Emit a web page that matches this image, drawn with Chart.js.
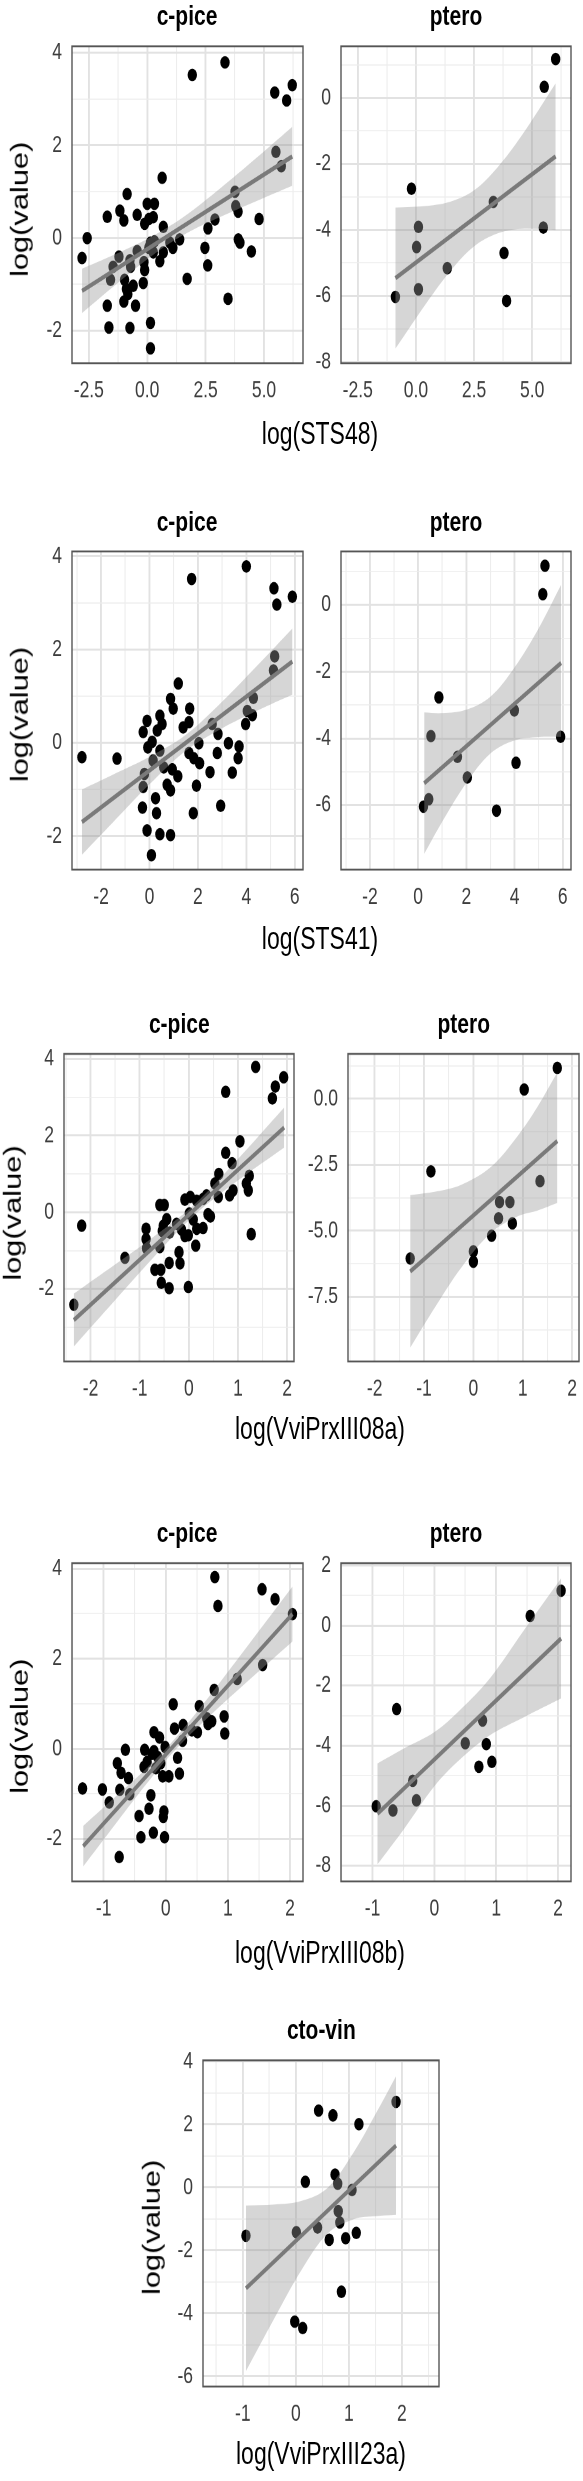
<!DOCTYPE html>
<html lang="en">
<head>
<meta charset="UTF-8">
<title>log(value) against expression</title>
<script src="https://cdn.jsdelivr.net/npm/chart.js"></script>
<style>
  body { margin: 0; background: #fff; }
  #page { position: relative; width: 583px; height: 2481px; overflow: hidden; }
  #stage { position: absolute; left: 0; top: 0; width: 583px; height: 1852px; transform-origin: 0 0;
           font-family: "Liberation Sans", Arial, Helvetica, sans-serif; }
  #stage canvas { position: absolute; }
  .lbl { position: absolute; width: 240px; text-align: center; white-space: nowrap; color: #000; }
</style>
</head>
<body>
<div id="page"><div id="stage"></div></div>
<script>
// the source figure is stretched vertically, so everything is drawn squat and scaled back up
const S = 1.34;

// ---- c-pice vs log(STS48)
const cpiceSTS48X = [1.93, 3.33, 5.46, 5.97, 6.21, 5.51, 5.74, 0.64, -0.86, 0, 0.31, -1.17, -1.71, -1.0, -0.43, -0.11, 0.07, 0.26, 0.69, 3.76, 3.79, 3.89, 2.9, 2.6, 4.79, 3.9, 3.97, 4.46, 2.47, 2.59, -2.57, -2.79, -1.21, -1.46, -1.57, -0.71, -0.43, -0.74, -0.14, -0.11, 0.14, 0.31, 0.26, 0.69, 0.54, 0.97, 1.1, 1.39, 1.71, -0.97, -0.89, -0.6, -0.83, -0.17, -1.0, -1.71, -0.5, -1.64, -0.74, 0.14, 0.14, 3.46, 0.07];
const cpiceSTS48Y = [3.52, 3.79, 3.14, 2.97, 3.30, 1.86, 1.55, 1.30, 0.95, 0.74, 0.74, 0.59, 0.46, 0.38, 0.50, 0.31, 0.41, 0.45, 0.24, 1.0, 0.69, 0.57, 0.40, 0.21, 0.41, -0.03, -0.10, -0.29, -0.21, -0.59, 0, -0.43, -0.40, -0.62, -0.90, -0.62, -0.28, -0.48, -0.52, -0.69, -0.10, -0.07, -0.31, -0.31, -0.50, -0.10, -0.21, -0.03, -0.88, -0.90, -1.10, -1.03, -1.21, -0.97, -1.37, -1.46, -1.46, -1.93, -1.94, -1.83, -2.38, -1.31, -0.21];
const cpiceSTS48FitX = [-2.79, 6.21];
const cpiceSTS48FitY = [-1.14, 1.76];
const cpiceSTS48BandX = [-2.79, -1.5, 0, 1, 2, 3.5, 5, 6.21];
const cpiceSTS48BandHi = [-0.66, -0.38, -0.02, 0.27, 0.62, 1.23, 1.87, 2.40];
const cpiceSTS48BandLo = [-1.62, -1.07, -0.46, -0.10, 0.19, 0.54, 0.87, 1.13];

// ---- ptero vs log(STS48)
const pteroSTS48X = [6.01, 5.52, -0.19, 3.33, 0.11, 5.48, 0.03, 3.79, 1.35, -0.88, 0.11, 3.9];
const pteroSTS48Y = [1.18, 0.34, -2.75, -3.15, -3.91, -3.93, -4.52, -4.70, -5.16, -6.03, -5.80, -6.15];
const pteroSTS48FitX = [-0.88, 6.01];
const pteroSTS48FitY = [-5.46, -1.77];
const pteroSTS48BandX = [-0.88, 0.5, 1.5, 2.5, 3.5, 4.5, 6.01];
const pteroSTS48BandHi = [-3.32, -3.27, -3.14, -2.80, -2.11, -1.19, 0.45];
const pteroSTS48BandLo = [-7.60, -6.17, -5.23, -4.50, -4.11, -3.97, -4.0];

// ---- c-pice vs log(STS41)
const cpiceSTS41X = [4.0, 1.74, 5.14, 5.26, 5.90, 5.17, 5.12, 1.19, 0.87, 0.98, 1.66, 4.29, 4.04, 4.25, 3.97, -0.10, -0.26, 0.43, 0.52, 0.32, 1.39, 1.63, 2.59, 2.83, 2.04, 3.26, 3.70, 3.66, -0.07, 0.43, 0.15, -2.79, -1.34, 1.63, 1.83, 2.07, 2.80, 0.59, 0.94, 1.17, 2.50, 3.42, -0.21, -0.26, 0.73, 0.87, 1.94, 0.25, -0.29, 0.29, 1.81, 2.94, -0.10, 0.43, 0.87, 0.08, 0.11];
const cpiceSTS41Y = [3.78, 3.51, 3.31, 2.96, 3.13, 1.85, 1.55, 1.27, 0.94, 0.73, 0.73, 0.96, 0.68, 0.59, 0.40, 0.47, 0.23, 0.58, 0.40, 0.26, 0.33, 0.44, 0.40, 0.19, -0.01, -0.01, -0.08, -0.33, -0.10, -0.17, -0.38, -0.31, -0.34, -0.22, -0.33, -0.44, -0.22, -0.53, -0.57, -0.72, -0.63, -0.64, -0.67, -0.95, -0.90, -1.02, -0.92, -1.19, -1.39, -1.51, -1.51, -1.35, -1.88, -1.96, -1.98, -2.41, 0.02];
const cpiceSTS41FitX = [-2.79, 5.90];
const cpiceSTS41FitY = [-1.70, 1.74];
const cpiceSTS41BandX = [-2.79, -1.5, 0, 1.5, 3, 4.5, 5.9];
const cpiceSTS41BandHi = [-1.00, -0.68, -0.30, 0.17, 0.88, 1.68, 2.45];
const cpiceSTS41BandLo = [-2.40, -1.70, -0.89, -0.17, 0.31, 0.70, 1.03];

// ---- ptero vs log(STS41)
const pteroSTS41X = [5.26, 5.17, 0.86, 3.99, 0.53, 5.91, 1.63, 4.06, 2.04, 0.44, 0.22, 3.25];
const pteroSTS41Y = [1.17, 0.32, -2.77, -3.16, -3.93, -3.95, -4.55, -4.73, -5.17, -5.82, -6.04, -6.16];
const pteroSTS41FitX = [0.25, 5.93];
const pteroSTS41FitY = [-5.34, -1.74];
const pteroSTS41BandX = [0.25, 1, 2, 3, 4, 5, 5.93];
const pteroSTS41BandHi = [-3.22, -3.24, -3.14, -2.75, -1.87, -0.70, 0.60];
const pteroSTS41BandLo = [-7.46, -6.49, -5.33, -4.45, -4.06, -3.96, -3.95];

// ---- c-pice vs log(VviPrxIII08a)
const cpice08aX = [1.36, 1.93, 1.76, 1.70, 0.75, 1.04, 0.75, 0.88, 0.61, 1.23, 1.17, 1.21, 0.90, 0.83, 0.53, 0.60, 0.36, 0.29, -0.08, 0.03, 0.16, -0.59, -0.50, 0.01, 0.09, 0.39, 0.44, 0.29, 0.16, -0.45, -0.52, -0.54, -0.39, -0.25, -0.15, -0.08, -0.01, -0.87, -0.87, -0.86, -0.59, -2.18, -1.30, 0.14, -0.20, -0.18, -0.40, -0.69, -0.57, -0.56, -0.40, -0.01, -2.34, 1.27];
const cpice08aY = [3.79, 3.52, 3.28, 2.97, 3.14, 1.85, 1.55, 1.28, 1.0, 0.95, 0.75, 0.57, 0.57, 0.44, 0.75, 0.40, 0.44, 0.35, 0.33, 0.40, 0.30, 0.19, 0.19, -0.03, -0.19, -0.05, -0.11, -0.41, -0.43, -0.18, -0.35, -0.49, -0.53, -0.30, -0.45, -0.62, -0.60, -0.43, -0.70, -0.94, -0.91, -0.35, -1.19, -0.87, -1.04, -1.33, -1.32, -1.50, -1.50, -1.84, -1.98, -1.95, -2.41, -0.57];
const cpice08aFitX = [-2.34, 1.94];
const cpice08aFitY = [-2.81, 2.21];
const cpice08aBandX = [-2.34, -1.5, -0.75, 0.1, 1, 1.94];
const cpice08aBandHi = [-2.12, -1.36, -0.67, 0.19, 1.39, 2.73];
const cpice08aBandLo = [-3.50, -2.29, -1.22, -0.09, 0.83, 1.69];

// ---- ptero vs log(VviPrxIII08a)
const ptero08aX = [1.70, 1.03, -0.86, 1.35, 0.53, 0.74, 0.51, 0.79, 0.37, 0, 0, -1.28];
const ptero08aY = [1.17, 0.35, -2.75, -3.12, -3.91, -3.91, -4.53, -4.72, -5.19, -5.78, -6.17, -6.05];
const ptero08aFitX = [-1.28, 1.70];
const ptero08aFitY = [-6.54, -1.60];
const ptero08aBandX = [-1.28, -0.75, -0.25, 0.35, 0.9, 1.3, 1.70];
const ptero08aBandHi = [-3.65, -3.51, -3.26, -2.59, -1.40, -0.30, 1.0];
const ptero08aBandLo = [-9.43, -7.82, -6.41, -5.09, -4.45, -4.23, -3.95];

// ---- c-pice vs log(VviPrxIII08b)
const cpice08bX = [0.79, 0.84, 1.55, 1.76, 2.04, 1.56, 1.15, 0.78, 0.12, 0.54, 0.94, 0.66, 0.74, 0.68, 0.95, 0.51, 0.42, 0.28, 0.14, 0.27, -0.19, -0.10, -0.34, -0.19, -0.01, 0.19, -0.65, -0.78, -0.72, -0.60, -0.35, -0.30, -0.16, -0.05, 0.05, 0.22, -1.34, -1.02, -0.91, -0.74, -0.58, -0.24, -0.27, -0.43, -0.03, -0.04, -0.40, -0.20, -0.02, -0.75, -0.13, -0.22, -0.08];
const cpice08bY = [3.81, 3.17, 3.54, 3.32, 2.99, 1.86, 1.55, 1.31, 0.99, 0.95, 0.72, 0.68, 0.61, 0.55, 0.34, 0.37, 0.41, 0.53, 0.45, 0.18, 0.37, 0.25, -0.02, -0.05, 0.04, -0.20, -0.02, -0.32, -0.53, -0.65, -0.40, -0.29, -0.43, -0.61, -0.61, -0.55, -0.88, -0.90, -1.19, -0.91, -1.01, -1.03, -1.33, -1.49, -1.39, -1.51, -1.96, -1.86, -1.96, -2.40, -0.18, -0.11, -0.32];
const cpice08bFitX = [-1.33, 2.04];
const cpice08bFitY = [-2.16, 2.99];
const cpice08bBandX = [-1.33, -0.8, -0.3, 0.1, 0.6, 1.2, 2.04];
const cpice08bBandHi = [-1.71, -1.05, -0.42, 0.15, 0.99, 2.07, 3.60];
const cpice08bBandLo = [-2.61, -1.65, -0.76, -0.10, 0.59, 1.35, 2.38];

// ---- ptero vs log(VviPrxIII08b)
const ptero08bX = [2.05, 1.55, -0.61, 0.78, 0.50, 0.84, 0.93, 0.72, -0.35, -0.29, -0.94, -0.67];
const ptero08bY = [1.16, 0.32, -2.78, -3.16, -3.92, -3.95, -4.54, -4.70, -5.17, -5.82, -6.02, -6.16];
const ptero08bFitX = [-0.92, 2.05];
const ptero08bFitY = [-6.27, -0.43];
const ptero08bBandX = [-0.92, -0.5, 0, 0.42, 0.9, 1.45, 2.05];
const ptero08bBandHi = [-4.59, -4.10, -3.55, -2.80, -1.75, -0.15, 1.57];
const ptero08bBandLo = [-7.95, -6.80, -5.35, -4.45, -3.65, -3.05, -2.43];

// ---- cto-vin vs log(VviPrxIII23a)
const ctoVin23aX = [1.89, 0.43, 0.70, 1.19, 0.18, 0.74, 0.79, 1.06, 0.80, 0.83, 0.01, 0.41, -0.94, 0.63, 0.94, 1.14, 0.86, -0.02, 0.13];
const ctoVin23aY = [2.72, 2.44, 2.29, 2.01, 0.18, 0.41, 0.12, -0.08, -0.75, -1.11, -1.42, -1.27, -1.53, -1.66, -1.61, -1.44, -3.31, -4.26, -4.46];
const ctoVin23aFitX = [-0.94, 1.89];
const ctoVin23aFitY = [-3.20, 1.33];
const ctoVin23aBandX = [-0.94, -0.4, 0.1, 0.6, 1.1, 1.5, 1.89];
const ctoVin23aBandHi = [-0.57, -0.54, -0.43, -0.01, 1.14, 2.32, 3.53];
const ctoVin23aBandLo = [-5.83, -4.14, -2.64, -1.46, -1.00, -0.91, -0.87];

// ---- tick values and labels
const ticksSTS48 = [-2.5, 0, 2.5, 5];
const labelsSTS48 = ['-2.5', '0.0', '2.5', '5.0'];
const ticksSTS41 = [-2, 0, 2, 4, 6];
const labelsSTS41 = ['-2', '0', '2', '4', '6'];
const ticks08a = [-2, -1, 0, 1, 2];
const labels08a = ['-2', '-1', '0', '1', '2'];
const ticks08b = [-1, 0, 1, 2];
const labels08b = ['-1', '0', '1', '2'];
const ticksCpice = [-2, 0, 2, 4];
const labelsCpice = ['-2', '0', '2', '4'];
const ticksPtero48 = [-8, -6, -4, -2, 0];
const labelsPtero48 = ['-8', '-6', '-4', '-2', '0'];
const ticksPtero41 = [-6, -4, -2, 0];
const labelsPtero41 = ['-6', '-4', '-2', '0'];
const ticksPtero08a = [-7.5, -5, -2.5, 0];
const labelsPtero08a = ['-7.5', '-5.0', '-2.5', '0.0'];
const ticksPtero08b = [-8, -6, -4, -2, 0, 2];
const labelsPtero08b = ['-8', '-6', '-4', '-2', '0', '2'];
const ticksCtoVin = [-6, -4, -2, 0, 2, 4];
const labelsCtoVin = ['-6', '-4', '-2', '0', '2', '4'];

const FONT = '"Liberation Sans", Arial, Helvetica, sans-serif';

// box = plot panel [left, top, right, bottom] in page pixels
const panels = [
  { title: 'c-pice', x: cpiceSTS48X, y: cpiceSTS48Y, fx: cpiceSTS48FitX, fy: cpiceSTS48FitY,
    bx: cpiceSTS48BandX, hi: cpiceSTS48BandHi, lo: cpiceSTS48BandLo,
    xr: [-3.22, 6.67], yr: [-2.70, 4.14], xt: ticksSTS48, xl: labelsSTS48, yt: ticksCpice, yl: labelsCpice,
    box: [71.7, 46.7, 302.3, 372.7], ylab: true },
  { title: 'ptero', x: pteroSTS48X, y: pteroSTS48Y, fx: pteroSTS48FitX, fy: pteroSTS48FitY,
    bx: pteroSTS48BandX, hi: pteroSTS48BandHi, lo: pteroSTS48BandLo,
    xr: [-3.22, 6.67], yr: [-8.04, 1.57], xt: ticksSTS48, xl: labelsSTS48, yt: ticksPtero48, yl: labelsPtero48,
    box: [341, 46.7, 571, 372.7] },
  { title: 'c-pice', x: cpiceSTS41X, y: cpiceSTS41Y, fx: cpiceSTS41FitX, fy: cpiceSTS41FitY,
    bx: cpiceSTS41BandX, hi: cpiceSTS41BandHi, lo: cpiceSTS41BandLo,
    xr: [-3.2, 6.34], yr: [-2.72, 4.10], xt: ticksSTS41, xl: labelsSTS41, yt: ticksCpice, yl: labelsCpice,
    box: [71.7, 551, 302.3, 878.3], ylab: true },
  { title: 'ptero', x: pteroSTS41X, y: pteroSTS41Y, fx: pteroSTS41FitX, fy: pteroSTS41FitY,
    bx: pteroSTS41BandX, hi: pteroSTS41BandHi, lo: pteroSTS41BandLo,
    xr: [-3.2, 6.34], yr: [-7.93, 1.60], xt: ticksSTS41, xl: labelsSTS41, yt: ticksPtero41, yl: labelsPtero41,
    box: [341, 551, 571, 878.3] },
  { title: 'c-pice', x: cpice08aX, y: cpice08aY, fx: cpice08aFitX, fy: cpice08aFitY,
    bx: cpice08aBandX, hi: cpice08aBandHi, lo: cpice08aBandLo,
    xr: [-2.54, 2.14], yr: [-3.89, 4.13], xt: ticks08a, xl: labels08a, yt: ticksCpice, yl: labelsCpice,
    box: [64.3, 1054.3, 294.3, 1371], ylab: true },
  { title: 'ptero', x: ptero08aX, y: ptero08aY, fx: ptero08aFitX, fy: ptero08aFitY,
    bx: ptero08aBandX, hi: ptero08aBandHi, lo: ptero08aBandLo,
    xr: [-2.54, 2.14], yr: [-9.95, 1.70], xt: ticks08a, xl: labels08a, yt: ticksPtero08a, yl: labelsPtero08a,
    box: [348.3, 1054.3, 579.3, 1371] },
  { title: 'c-pice', x: cpice08bX, y: cpice08bY, fx: cpice08bFitX, fy: cpice08bFitY,
    bx: cpice08bBandX, hi: cpice08bBandHi, lo: cpice08bBandLo,
    xr: [-1.51, 2.21], yr: [-2.94, 4.12], xt: ticks08b, xl: labels08b, yt: ticksCpice, yl: labelsCpice,
    box: [71.7, 1562.7, 302.3, 1889.3], ylab: true },
  { title: 'ptero', x: ptero08bX, y: ptero08bY, fx: ptero08bFitX, fy: ptero08bFitY,
    bx: ptero08bBandX, hi: ptero08bBandHi, lo: ptero08bBandLo,
    xr: [-1.51, 2.21], yr: [-8.52, 2.08], xt: ticks08b, xl: labels08b, yt: ticksPtero08b, yl: labelsPtero08b,
    box: [341, 1562.7, 571, 1889.3] },
  { title: 'cto-vin', x: ctoVin23aX, y: ctoVin23aY, fx: ctoVin23aFitX, fy: ctoVin23aFitY,
    bx: ctoVin23aBandX, hi: ctoVin23aBandHi, lo: ctoVin23aBandLo,
    xr: [-1.75, 2.70], yr: [-6.32, 4.04], xt: ticks08b, xl: labels08b, yt: ticksCtoVin, yl: labelsCtoVin,
    box: [203.3, 2060, 439.3, 2395], ylab: true }
];

const xTitles = [
  ['log(STS48)', 320, 436],
  ['log(STS41)', 320, 941],
  ['log(VviPrxIII08a)', 320, 1431],
  ['log(VviPrxIII08b)', 320, 1955],
  ['log(VviPrxIII23a)', 321, 2457]
];

const stage = document.getElementById('stage');
stage.style.transform = 'scaleY(' + S + ')';

function addText(text, cx, cyPage, size, bold, rotate) {
  const d = document.createElement('div');
  d.className = 'lbl';
  d.textContent = text;
  const lh = size * 1.15;
  d.style.fontSize = size + 'px';
  d.style.lineHeight = lh + 'px';
  d.style.fontWeight = bold ? 'bold' : 'normal';
  const cy = cyPage / S;
  if (rotate) {
    d.style.left = (cx - 0.085 * size - 120) + 'px';
    d.style.top = (cy - lh / 2) + 'px';
    d.style.transform = 'rotate(-90deg)';
  } else {
    d.style.left = (cx - 120) + 'px';
    d.style.top = (cy - 0.66 * size) + 'px';
  }
  stage.appendChild(d);
}

// major ticks plus the half-way minor grid lines inside the range
function gridValues(majors, min, max) {
  const step = (majors[1] - majors[0]) / 2;
  const out = [];
  for (let v = majors[0] - 4 * step; v <= max + 1e-9; v += step) {
    if (v >= min - 1e-9) out.push(Math.round(v * 1000) / 1000);
  }
  return out;
}
const near = (list, v) => list.findIndex(m => Math.abs(m - v) < 1e-6);

const frame = {
  id: 'frame',
  afterDraw(chart) {
    const { ctx, chartArea: a } = chart;
    ctx.save();
    ctx.strokeStyle = '#555555';
    ctx.lineWidth = 1.4;
    ctx.strokeRect(a.left, a.top, a.right - a.left, a.bottom - a.top);
    ctx.restore();
  }
};

const YW = 44, PT = 14, PR = 14, XH = 32;

function axis(min, max, majors, labels, isX) {
  const all = gridValues(majors, min, max);
  return {
    type: 'linear',
    position: isX ? 'bottom' : 'left',
    min: min, max: max,
    afterBuildTicks: s => { s.ticks = all.map(v => ({ value: v })); },
    afterFit: s => { if (isX) s.height = XH; else s.width = YW; },
    border: { display: false },
    grid: {
      drawTicks: false,
      color: c => near(majors, c.tick ? c.tick.value : NaN) >= 0 ? '#e2e2e2' : '#ededed',
      lineWidth: c => near(majors, c.tick ? c.tick.value : NaN) >= 0 ? (isX ? 1.9 : 1.5) : (isX ? 1.1 : 0.85)
    },
    ticks: {
      autoSkip: false, maxRotation: 0, minRotation: 0,
      padding: isX ? 10 : 10,
      color: '#3d3d3d',
      font: { family: FONT, size: 17.5 },
      callback: v => { const i = near(majors, v); return i >= 0 ? labels[i] : ''; }
    }
  };
}

panels.forEach(p => {
  const [L, T, R, B] = p.box;
  const plotW = Math.round(R - L);
  const plotH = Math.round((B - T) / S);
  const cv = document.createElement('canvas');
  const w = YW + plotW + PR, h = PT + plotH + XH;
  cv.width = w; cv.height = h;
  cv.style.width = w + 'px'; cv.style.height = h + 'px';
  cv.style.left = (L - YW) + 'px';
  cv.style.top = (T / S - PT) + 'px';
  stage.appendChild(cv);

  const pts = p.x.map((v, i) => ({ x: v, y: p.y[i] }));
  const fit = p.fx.map((v, i) => ({ x: v, y: p.fy[i] }));
  const hi = p.bx.map((v, i) => ({ x: v, y: p.hi[i] }));
  const lo = p.bx.map((v, i) => ({ x: v, y: p.lo[i] }));

  const chart = new Chart(cv, {
    type: 'scatter',
    data: {
      datasets: [
        { type: 'line', data: fit, borderColor: '#7a7a7a', borderWidth: 3.3, pointRadius: 0, fill: false, order: 1 },
        { type: 'line', data: hi, borderColor: 'rgba(0,0,0,0)', borderWidth: 0, pointRadius: 0, tension: 0.35, fill: false, order: 2 },
        { type: 'line', data: lo, borderColor: 'rgba(0,0,0,0)', borderWidth: 0, pointRadius: 0, tension: 0.35,
          fill: '-1', backgroundColor: 'rgba(153,153,153,0.4)', order: 2 },
        { type: 'scatter', data: pts, backgroundColor: '#000', borderWidth: 0, pointRadius: 4.7, order: 3 }
      ]
    },
    options: {
      responsive: false,
      animation: false,
      devicePixelRatio: 2,
      events: [],
      layout: { padding: { top: PT, right: PR, left: 0, bottom: 0 } },
      plugins: { legend: { display: false }, tooltip: { enabled: false } },
      scales: {
        x: axis(p.xr[0], p.xr[1], p.xt, p.xl, true),
        y: axis(p.yr[0], p.yr[1], p.yt, p.yl, false)
      }
    },
    plugins: [frame]
  });

  // nudge the canvas so the panel lands exactly on its box
  const a = chart.chartArea;
  cv.style.left = (L - a.left) + 'px';
  cv.style.top = (T / S - a.top) + 'px';

  addText(p.title, (L + R) / 2, T - 27.5, 21, true, false);
  if (p.ylab) addText('log(value)', L - 49.5, (T + B) / 2, 23, false, true);
});

xTitles.forEach(t => addText(t[0], t[1], t[2], 23, false, false));
</script>
</body>
</html>
